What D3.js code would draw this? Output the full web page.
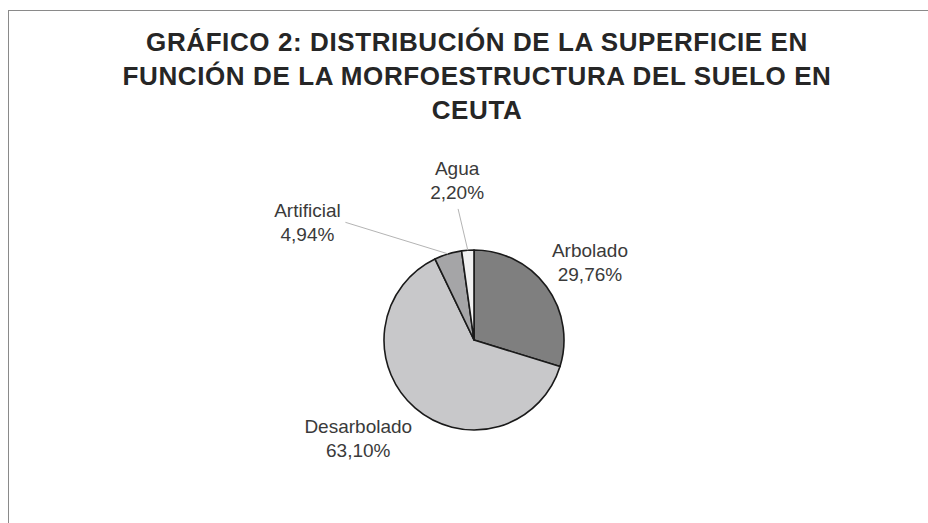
<!DOCTYPE html>
<html>
<head>
<meta charset="utf-8">
<script src="https://cdn.jsdelivr.net/npm/d3@7"></script>
<style>
  body { margin: 0; background: #fff; }
  svg { display: block; font-family: "Liberation Sans", Arial, sans-serif; }
</style>
</head>
<body>
<svg id="chart" width="928" height="523"></svg>
<script>
// data
const categories = ["Arbolado", "Desarbolado", "Artificial", "Agua"];
const values = [29.76, 63.10, 4.94, 2.20];
const valueLabels = ["29,76%", "63,10%", "4,94%", "2,20%"];
const titleLines = [
  "GRÁFICO 2: DISTRIBUCIÓN DE LA SUPERFICIE EN",
  "FUNCIÓN DE LA MORFOESTRUCTURA DEL SUELO EN",
  "CEUTA"
];

const width = 928, height = 523;
const cx = 474, cy = 340, radius = 90;
const colors = ["#7f7f7f", "#c8c8ca", "#a5a5a7", "#f1f1f1"];
// label placement (angle in degrees from 12 o'clock, distance from centre), like the moved excel labels
const labelPolar = [[58.5, 136], [227.9, 156], [303.6, 200], [353.7, 154]];
const leader = [false, false, true, true];

const svg = d3.select("#chart");

// frame (only top and left edges are inside the picture)
svg.append("rect")
  .attr("x", 8.5).attr("y", 10.5)
  .attr("width", width + 20).attr("height", height + 20)
  .attr("fill", "none")
  .attr("stroke", "#8a8a8a")
  .attr("stroke-width", 1);

// title
svg.append("g")
  .selectAll("text")
  .data(titleLines)
  .enter().append("text")
    .attr("x", 477)
    .attr("y", (d, i) => 51 + i * 34)
    .attr("text-anchor", "middle")
    .attr("fill", "#262626")
    .style("font-size", "26px")
    .style("letter-spacing", "0.6px")
    .style("font-weight", "bold")
    .text(d => d);

const pie = d3.pie().sort(null).value(d => d);
const arcs = pie(values);
const arc = d3.arc().innerRadius(0).outerRadius(radius);

const g = svg.append("g").attr("transform", `translate(${cx},${cy})`);

g.selectAll("path")
  .data(arcs)
  .enter().append("path")
    .attr("d", arc)
    .attr("fill", (d, i) => colors[i])
    .attr("stroke", "#1a1a1a")
    .attr("stroke-width", 1.6)
    .attr("stroke-linejoin", "round");

// labels
const labelPoint = i => d3.pointRadial(labelPolar[i][0] * Math.PI / 180, labelPolar[i][1]);

// leader lines
arcs.forEach((a, i) => {
  if (!leader[i]) return;
  const mid = (a.startAngle + a.endAngle) / 2;
  const p0 = d3.pointRadial(mid, radius);
  const lp = labelPoint(i);
  // end of line next to the label text
  const end = i === 2 ? [lp[0] + 38, lp[1] - 7] : [lp[0] + 1, lp[1] + 22];
  g.append("line")
    .attr("x1", p0[0]).attr("y1", p0[1])
    .attr("x2", end[0]).attr("y2", end[1])
    .attr("stroke", "#b4b4b4")
    .attr("stroke-width", 1);
});

const lab = g.selectAll(".lab")
  .data(arcs)
  .enter().append("text")
    .attr("class", "lab")
    .attr("text-anchor", "middle")
    .attr("fill", "#3a3a3a")
    .style("font-size", "19px")
    .attr("transform", (d, i) => { const p = labelPoint(i); return `translate(${p[0]},${p[1]})`; });

lab.append("tspan").attr("x", 0).attr("y", -12).text((d, i) => categories[i]);
lab.append("tspan").attr("x", 0).attr("y", 12).text((d, i) => valueLabels[i]);
</script>
</body>
</html>
